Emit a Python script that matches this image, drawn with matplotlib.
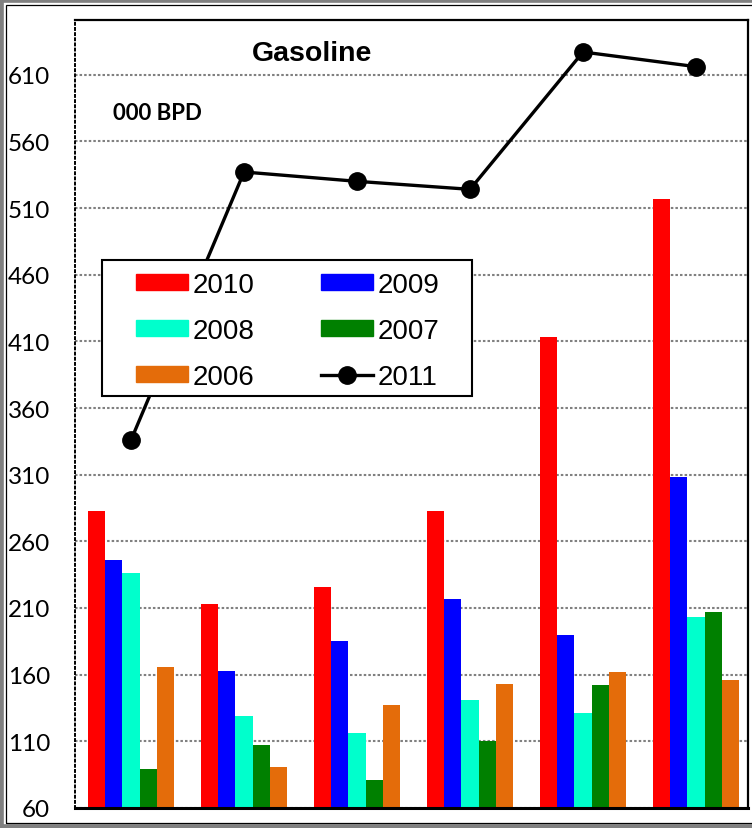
import numpy as np
import matplotlib.pyplot as plt
from matplotlib.patches import Rectangle, Patch
from matplotlib.lines import Line2D

# data (000 BPD)
groups = np.arange(6)
y2010 = [283, 213, 226, 283, 413, 517]
y2009 = [246, 163, 185, 217, 190, 308]
y2008 = [236, 129, 116, 141, 131, 203]
y2007 = [89, 107, 81, 110, 152, 207]
y2006 = [166, 91, 137, 153, 162, 156]
y2011 = [336, 537, 530, 524, 627, 616]
yticks = [60, 110, 160, 210, 260, 310, 360, 410, 460, 510, 560, 610]

bar_series = [("2010", y2010, "#FF0000"),
              ("2009", y2009, "#0000FF"),
              ("2008", y2008, "#00FFCC"),
              ("2007", y2007, "#008000"),
              ("2006", y2006, "#E46C0A")]

W, H = 752, 829
fig = plt.figure(figsize=(W / 100, H / 100), dpi=100)
ax = fig.add_axes([75 / W, 1 - 809 / H, 673 / W, 788 / H])

bw = 0.153
for i, (lab, vals, col) in enumerate(bar_series):
    ax.bar(groups + (i - 2) * bw, vals, width=bw, color=col, zorder=2, label=lab)

ax.plot(groups, y2011, color="black", lw=2.4, marker="o", ms=12.5, zorder=3)

ax.set_xlim(-0.496, 5.46)
ax.set_ylim(60, 651)
ax.set_yticks(yticks)
ax.set_xticks([])
ax.yaxis.grid(True, color="#808080", linestyle=(0, (1.2, 1.0)), lw=1.5)
ax.set_axisbelow(True)
ax.tick_params(axis="y", length=0, pad=18.0, labelsize=17.5)
for t in ax.get_yticklabels():
    t.set_fontfamily("Lato")

ax.spines["left"].set_linestyle(":")
ax.spines["left"].set_linewidth(1.4)
ax.spines["top"].set_linewidth(1.6)
ax.spines["right"].set_linewidth(1.6)
ax.spines["bottom"].set_linewidth(2.2)

ax.text(0.3522, 0.9496, "Gasoline", transform=ax.transAxes, ha="center",
        va="baseline", fontsize=20.5, fontweight="bold", family="Liberation Sans")
ax.text(0.0569, 0.8744, "000 BPD", transform=ax.transAxes, ha="left",
        va="baseline", fontsize=16, fontweight="bold", family="Lato")

# legend: white box drawn separately, entries in two columns
ax.add_patch(Rectangle((0.0401, 0.5228), 0.5498, 0.1726, transform=ax.transAxes,
                       facecolor="white", edgecolor="black", lw=1.5, zorder=4))
h = [Patch(color=c) for _, _, c in bar_series]
line_h = Line2D([], [], color="black", lw=2.4, marker="o", ms=12.5)
handles = [h[0], h[2], h[4], h[1], h[3], line_h]
labels = ["2010", "2008", "2006", "2009", "2007", "2011"]
leg = ax.legend(handles, labels, ncol=2, loc="center left",
                bbox_to_anchor=(0.0902, 0.6053), frameon=False,
                prop={"family": "Liberation Sans", "size": 20},
                handlelength=1.87, handleheight=0.54, handletextpad=0.18,
                columnspacing=2.38, labelspacing=0.72, borderpad=0, borderaxespad=0)
leg.set_zorder(5)

# outer frame
fig.add_artist(Rectangle((0, 0), 1.2, 1, transform=fig.transFigure, fill=False,
                         edgecolor="#808080", lw=5.5))
fig.add_artist(Rectangle((5.5 / W, 5.5 / H), 1.2, 1 - 11 / H, transform=fig.transFigure,
                         fill=False, edgecolor="black", lw=0.9))

fig.savefig("out.png", dpi=100)
